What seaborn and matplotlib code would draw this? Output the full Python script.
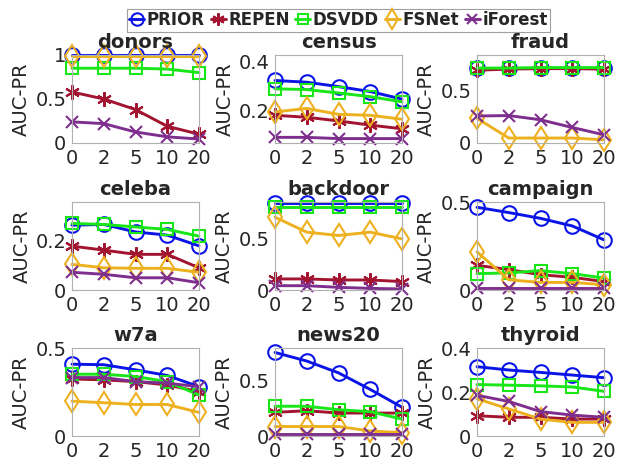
import numpy as np
import pandas as pd
import matplotlib
matplotlib.use("Agg")
import matplotlib.pyplot as plt
import seaborn as sns
from matplotlib.lines import Line2D

sns.set_style("white")
plt.rcParams['font.family'] = ['DejaVu Sans']

# noise levels on the x axis
x_labels = ['0', '2', '5', '10', '20']
methods = ['PRIOR', 'REPEN', 'DSVDD', 'FSNet', 'iForest']
datasets = ['donors', 'census', 'fraud', 'celeba', 'backdoor', 'campaign',
            'w7a', 'news20', 'thyroid']

# AUC-PR per dataset, one list per method
donors_prior = [1.00, 1.00, 1.00, 1.00, 1.00]
donors_repen = [0.58, 0.50, 0.38, 0.19, 0.10]
donors_dsvdd = [0.85, 0.85, 0.85, 0.84, 0.80]
donors_fsnet = [0.99, 0.99, 0.99, 0.99, 0.99]
donors_iforest = [0.24, 0.22, 0.125, 0.07, 0.045]

census_prior = [0.324, 0.317, 0.299, 0.279, 0.248]
census_repen = [0.182, 0.174, 0.159, 0.142, 0.127]
census_dsvdd = [0.290, 0.287, 0.273, 0.258, 0.237]
census_fsnet = [0.196, 0.210, 0.186, 0.182, 0.166]
census_iforest = [0.092, 0.092, 0.087, 0.087, 0.087]

fraud_prior = [0.71, 0.71, 0.71, 0.71, 0.71]
fraud_repen = [0.69, 0.70, 0.705, 0.705, 0.70]
fraud_dsvdd = [0.71, 0.71, 0.715, 0.715, 0.715]
fraud_fsnet = [0.234, 0.047, 0.047, 0.047, 0.03]
fraud_iforest = [0.256, 0.26, 0.22, 0.147, 0.078]

celeba_prior = [0.26, 0.263, 0.233, 0.22, 0.177]
celeba_repen = [0.176, 0.16, 0.143, 0.143, 0.089]
celeba_dsvdd = [0.267, 0.263, 0.253, 0.243, 0.216]
celeba_fsnet = [0.103, 0.089, 0.087, 0.087, 0.071]
celeba_iforest = [0.071, 0.063, 0.049, 0.049, 0.029]

backdoor_prior = [0.85, 0.85, 0.85, 0.85, 0.85]
backdoor_repen = [0.108, 0.108, 0.098, 0.098, 0.082]
backdoor_dsvdd = [0.81, 0.81, 0.81, 0.81, 0.81]
backdoor_fsnet = [0.712, 0.565, 0.533, 0.565, 0.50]
backdoor_iforest = [0.042, 0.042, 0.026, 0.016, 0.01]

campaign_prior = [0.47, 0.44, 0.407, 0.364, 0.285]
campaign_repen = [0.14, 0.116, 0.087, 0.072, 0.048]
campaign_dsvdd = [0.093, 0.097, 0.11, 0.093, 0.068]
campaign_fsnet = [0.217, 0.058, 0.043, 0.043, 0.03]
campaign_iforest = [0.014, 0.014, 0.014, 0.014, 0.014]

w7a_prior = [0.408, 0.405, 0.376, 0.344, 0.28]
w7a_repen = [0.324, 0.319, 0.309, 0.29, 0.252]
w7a_dsvdd = [0.351, 0.351, 0.338, 0.309, 0.233]
w7a_fsnet = [0.198, 0.189, 0.179, 0.179, 0.134]
w7a_iforest = [0.332, 0.332, 0.309, 0.30, 0.28]

news20_prior = [0.75, 0.673, 0.567, 0.418, 0.258]
news20_repen = [0.212, 0.227, 0.206, 0.206, 0.206]
news20_dsvdd = [0.267, 0.267, 0.236, 0.218, 0.152]
news20_fsnet = [0.085, 0.085, 0.085, 0.045, 0.03]
news20_iforest = [0.02, 0.02, 0.02, 0.02, 0.02]

thyroid_prior = [0.315, 0.30, 0.289, 0.277, 0.265]
thyroid_repen = [0.092, 0.085, 0.085, 0.077, 0.077]
thyroid_dsvdd = [0.234, 0.231, 0.228, 0.223, 0.203]
thyroid_fsnet = [0.169, 0.123, 0.077, 0.062, 0.062]
thyroid_iforest = [0.185, 0.157, 0.111, 0.095, 0.085]

results = {
    'donors': [donors_prior, donors_repen, donors_dsvdd, donors_fsnet, donors_iforest],
    'census': [census_prior, census_repen, census_dsvdd, census_fsnet, census_iforest],
    'fraud': [fraud_prior, fraud_repen, fraud_dsvdd, fraud_fsnet, fraud_iforest],
    'celeba': [celeba_prior, celeba_repen, celeba_dsvdd, celeba_fsnet, celeba_iforest],
    'backdoor': [backdoor_prior, backdoor_repen, backdoor_dsvdd, backdoor_fsnet, backdoor_iforest],
    'campaign': [campaign_prior, campaign_repen, campaign_dsvdd, campaign_fsnet, campaign_iforest],
    'w7a': [w7a_prior, w7a_repen, w7a_dsvdd, w7a_fsnet, w7a_iforest],
    'news20': [news20_prior, news20_repen, news20_dsvdd, news20_fsnet, news20_iforest],
    'thyroid': [thyroid_prior, thyroid_repen, thyroid_dsvdd, thyroid_fsnet, thyroid_iforest],
}

# axis limits and ticks per panel
ylims = {'donors': (0, 1.0), 'census': (0.069, 0.428), 'fraud': (0, 0.834),
         'celeba': (0, 0.353), 'backdoor': (0, 0.86), 'campaign': (0, 0.5),
         'w7a': (0, 0.5), 'news20': (0, 0.79), 'thyroid': (0, 0.4)}
yticks = {'donors': [0, 0.5, 1], 'census': [0.2, 0.4], 'fraud': [0, 0.5],
          'celeba': [0, 0.2], 'backdoor': [0, 0.5], 'campaign': [0, 0.5],
          'w7a': [0, 0.5], 'news20': [0, 0.5], 'thyroid': [0, 0.2, 0.4]}

colors = ['#0a14e6', '#a2142f', '#19e619', '#edb120', '#7e2f8e']
markers = ['o', (6, 2, 0), 's', 'd', 'x']
msizes = [10.5, 10.5, 9, 11.5, 9]

W, H = 635, 462
fig = plt.figure(figsize=(W / 100, H / 100), dpi=100)

lefts = [72, 275, 477]
tops = [55, 202, 348]
aw, ah = 127, 88

x = np.arange(len(x_labels))
for i, name in enumerate(datasets):
    r, c = divmod(i, 3)
    ax = fig.add_axes([lefts[c] / W, 1 - (tops[r] + ah) / H, aw / W, ah / H])
    for j, m in enumerate(methods):
        df = pd.DataFrame({'x': x, 'y': results[name][j]})
        sns.lineplot(data=df, x='x', y='y', ax=ax, color=colors[j],
                     marker=markers[j], markersize=msizes[j],
                     markerfacecolor='none', markeredgecolor=colors[j],
                     markeredgewidth=1.5, linewidth=2.1, clip_on=False)
    ax.set_xlim(0, 4)
    ax.set_ylim(*ylims[name])
    ax.set_xticks(x)
    ax.set_xticklabels(x_labels)
    ax.set_yticks(yticks[name])
    ax.set_yticklabels([('%g' % t) for t in yticks[name]])
    ax.tick_params(labelsize=14, colors='#262626', length=0, pad=4)
    for s in ax.spines.values():
        s.set_color('#b0b0b0')
        s.set_linewidth(0.8)
    ax.set_xlabel('')
    ax.set_ylabel('AUC-PR', fontsize=14, color='#262626', labelpad=3)
    ax.set_title(name, fontsize=14, fontweight='bold', pad=5)

handles = [Line2D([0], [0], color=colors[j], marker=markers[j], markersize=msizes[j] * 0.85,
                  markerfacecolor='none', markeredgewidth=1.5, linewidth=2.1)
           for j in range(len(methods))]
leg = fig.legend(handles, methods, loc='upper center', bbox_to_anchor=(0.533, 0.985),
                 ncol=5, frameon=True, fancybox=False, handlelength=0.9,
                 handletextpad=0.15, columnspacing=0.35, borderpad=0.15,
                 borderaxespad=0.1, prop={'weight': 'bold', 'size': 12})
leg.get_frame().set_edgecolor('#888888')
leg.get_frame().set_linewidth(0.8)

fig.savefig('out.png', dpi=100)
